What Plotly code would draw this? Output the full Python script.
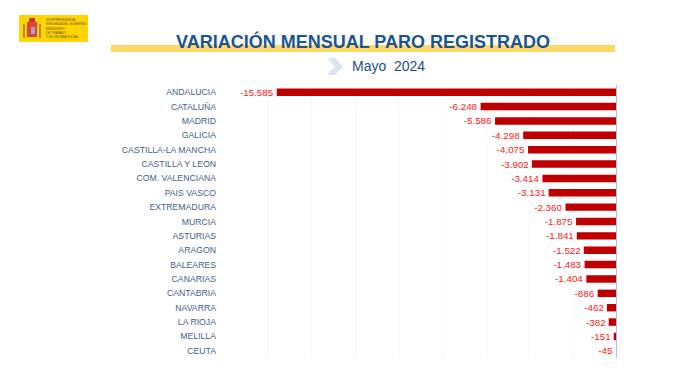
import plotly.graph_objects as go

regions = ["ANDALUCIA", "CATALUÑA", "MADRID", "GALICIA", "CASTILLA-LA MANCHA",
           "CASTILLA Y LEON", "COM. VALENCIANA", "PAIS VASCO", "EXTREMADURA",
           "MURCIA", "ASTURIAS", "ARAGON", "BALEARES", "CANARIAS", "CANTABRIA",
           "NAVARRA", "LA RIOJA", "MELILLA", "CEUTA"]
variation = [-15585, -6248, -5586, -4298, -4075, -3902, -3414, -3131, -2360,
             -1875, -1841, -1522, -1483, -1404, -886, -462, -382, -151, -45]

title_text = "VARIACIÓN MENSUAL PARO REGISTRADO"
subtitle_text = "Mayo  2024"

OFF = 8  # page body margin
W, H = 677 - OFF, 387 - OFF
L, R, T, B = 224 - OFF, 617 - OFF, 85 - OFF, 358 - OFF


def px(x):
    return (x - OFF - L) / (R - L)


def py(y):
    return (B - (y - OFF)) / (B - T)


fig = go.Figure(go.Bar(
    x=variation, y=regions, orientation="h",
    marker=dict(color="#c00000", line=dict(width=0)),
    width=0.52,
    texttemplate="%{x:,.0f}", textposition="outside", constraintext="none",
    textfont=dict(family="Liberation Sans, Arial", size=9.8, color="#ff2020"),
    cliponaxis=False,
))

shapes = []
shapes.append(dict(type="line", xref="x", yref="paper", x0=0, x1=0, y0=0, y1=1,
                   line=dict(color="#a9c4eb", width=2), layer="above"))
shapes.append(dict(type="rect", xref="paper", yref="paper",
                   x0=px(111), x1=px(615), y0=py(52), y1=py(45),
                   fillcolor="#ffd966", line=dict(width=0), layer="below"))
shapes.append(dict(type="path", xref="paper", yref="paper",
                   path="M {} {} L {} {} L {} {} L {} {} L {} {} L {} {} Z".format(
                       px(327), py(58), px(335), py(58), px(343), py(66.5),
                       px(335), py(75), px(327), py(75), px(335), py(66.5)),
                   fillcolor="#dbe4f3", line=dict(width=0)))
shapes.append(dict(type="rect", xref="paper", yref="paper",
                   x0=px(19), x1=px(88), y0=py(42), y1=py(15),
                   fillcolor="#ffd400", line=dict(width=0)))
shapes.append(dict(type="rect", xref="paper", yref="paper",
                   x0=px(27), x1=px(37), y0=py(37), y1=py(22),
                   fillcolor="#d9473b", line=dict(width=0)))
shapes.append(dict(type="rect", xref="paper", yref="paper",
                   x0=px(23), x1=px(25), y0=py(38), y1=py(24),
                   fillcolor="#b58a4a", line=dict(width=0)))
shapes.append(dict(type="rect", xref="paper", yref="paper",
                   x0=px(39), x1=px(41), y0=py(38), y1=py(24),
                   fillcolor="#b58a4a", line=dict(width=0)))
shapes.append(dict(type="rect", xref="paper", yref="paper",
                   x0=px(29), x1=px(35), y0=py(22), y1=py(18),
                   fillcolor="#c8343a", line=dict(width=0)))
shapes.append(dict(type="rect", xref="paper", yref="paper",
                   x0=px(31), x1=px(35), y0=py(34), y1=py(27),
                   fillcolor="#a8a0c8", line=dict(width=0)))

annotations = [
    dict(text="<b>" + title_text + "</b>", x=px(363), y=py(42), xref="paper", yref="paper",
         showarrow=False, font=dict(family="Liberation Sans, Arial", size=18, color="#1b5591"),
         xanchor="center", yanchor="middle"),
    dict(text=subtitle_text, x=px(350), y=py(66), xref="paper", yref="paper",
         showarrow=False, font=dict(family="Liberation Sans, Arial", size=14, color="#1f4e8c"),
         xanchor="left", yanchor="middle"),
    dict(text="VICEPRESIDENCIA<br>SEGUNDA DEL GOBIERNO", x=px(44), y=py(22), xref="paper",
         yref="paper", showarrow=False, xanchor="left", yanchor="middle", align="left",
         font=dict(family="Liberation Sans, Arial", size=3.2, color="#5a4a20")),
    dict(text="MINISTERIO<br>DE TRABAJO<br>Y ECONOMÍA SOCIAL", x=px(44), y=py(32.5), xref="paper",
         yref="paper", showarrow=False, xanchor="left", yanchor="middle", align="left",
         font=dict(family="Liberation Sans, Arial", size=3.2, color="#5a4a20")),
]

fig.update_layout(
    width=W, height=H,
    margin=dict(l=L, r=W - R, t=T, b=H - B, pad=0),
    plot_bgcolor="white", paper_bgcolor="white",
    separators=",.",
    showlegend=False,
    shapes=shapes, annotations=annotations,
    xaxis=dict(range=[-18000, 0], dtick=2000, showgrid=True, gridcolor="#f7f7f7",
               gridwidth=1, zeroline=False, showticklabels=False, showline=False,
               fixedrange=True),
    yaxis=dict(autorange="reversed", showgrid=False, zeroline=False, showline=False,
               ticks="", ticklabelstandoff=7,
               tickfont=dict(family="Liberation Sans, Arial", size=8.7, color="#42618a")),
)

fig.write_html("out.html")
